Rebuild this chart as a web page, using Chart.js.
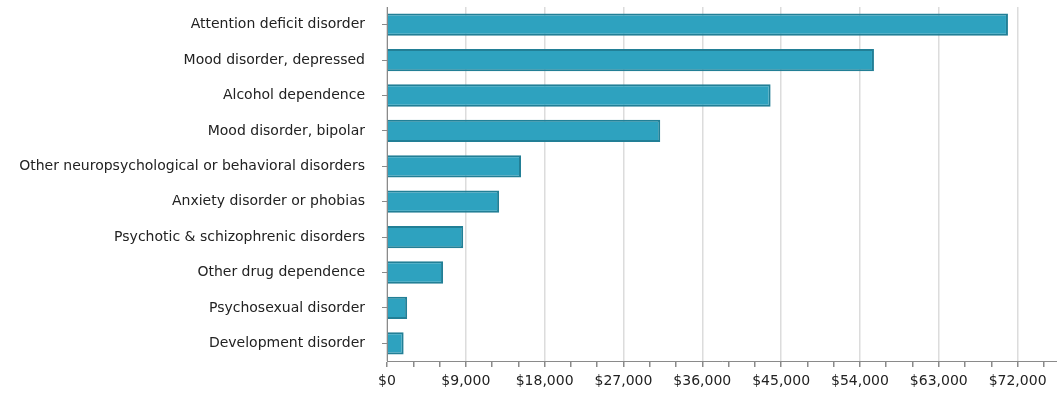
<!DOCTYPE html>
<html>
<head>
<meta charset="utf-8">
<script src="https://cdn.jsdelivr.net/npm/chart.js@4"></script>
<style>
  html, body { margin: 0; padding: 0; background: #fff; }
  #wrap { width: 1057px; height: 399px; }
</style>
</head>
<body>
<div id="wrap"><canvas id="costChart" width="1057" height="399"></canvas></div>
<script>
// categories, top to bottom
const disorders = [
    'Attention deficit disorder',
    'Mood disorder, depressed',
    'Alcohol dependence',
    'Mood disorder, bipolar',
    'Other neuropsychological or behavioral disorders',
    'Anxiety disorder or phobias',
    'Psychotic & schizophrenic disorders',
    'Other drug dependence',
    'Psychosexual disorder',
    'Development disorder'
];

// cost in dollars
const costs = [70900, 55600, 43800, 31200, 15300, 12800, 8700, 6400, 2300, 1900];

// x axis tick labels
const majorTicks = [0, 9000, 18000, 27000, 36000, 45000, 54000, 63000, 72000];
const minorStep = 3000;
const xMax = 76500;

// major ticks plus the small marks in between
const allTicks = [];
for (let v = 0; v <= xMax; v += minorStep) allTicks.push(v);

function isMajor(v) {
    return majorTicks.includes(v);
}

const ctx = document.getElementById('costChart').getContext('2d');

const costChart = new Chart(ctx, {
    type: 'bar',
    data: {
        labels: disorders,
        datasets: [{
            label: 'Cost',
            data: costs,
            backgroundColor: '#2ea2bf',
            borderColor: '#227f96',
            borderWidth: 2,
            barPercentage: 0.63,
            categoryPercentage: 1.0
        }]
    },
    options: {
        indexAxis: 'y',
        responsive: false,
        animation: false,
        layout: { padding: { top: 7, right: 0, left: 0, bottom: 0 } },
        plugins: {
            legend: { display: false },
            tooltip: { enabled: false }
        },
        scales: {
            x: {
                min: 0,
                max: xMax,
                afterBuildTicks: function(scale) {
                    scale.ticks = allTicks.map(v => ({ value: v }));
                },
                afterFit: function(scale) {
                    scale.height = 38;
                },
                ticks: {
                    autoSkip: false,
                    maxRotation: 0,
                    padding: 6,
                    color: '#222',
                    font: { family: 'DejaVu Sans', size: 14 },
                    callback: function(value) {
                        if (!isMajor(value)) return '';
                        return '$' + value.toLocaleString('en-US');
                    }
                },
                grid: {
                    color: function(context) {
                        const v = context.tick ? context.tick.value : 0;
                        return isMajor(v) ? '#dcdcdc' : 'rgba(0,0,0,0)';
                    },
                    lineWidth: 1.5,
                    tickColor: '#8a8a8a',
                    tickLength: 6
                },
                border: { color: '#8a8a8a', width: 1 }
            },
            y: {
                afterFit: function(scale) {
                    scale.width = 387;
                    scale.paddingTop = 0;
                    scale.paddingBottom = 0;
                },
                ticks: {
                    color: '#222',
                    padding: 17,
                    font: { family: 'DejaVu Sans', size: 14 }
                },
                grid: {
                    offset: false,
                    drawOnChartArea: false,
                    tickColor: '#8a8a8a',
                    tickLength: 5
                },
                border: { color: '#8a8a8a', width: 1 }
            }
        }
    }
});
</script>
</body>
</html>
